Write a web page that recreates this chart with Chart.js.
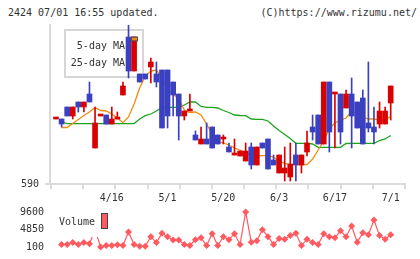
<!DOCTYPE html>
<html><head><meta charset="utf-8">
<script src="https://cdn.jsdelivr.net/npm/chart.js@4/dist/chart.umd.min.js"></script>
<style>
html,body{margin:0;padding:0;background:#fff;width:420px;height:259px;overflow:hidden;}
body{position:relative;font-family:"DejaVu Sans Mono",monospace;}
.t{position:absolute;top:7px;font-size:10px;line-height:12px;color:#333;white-space:pre;}
#tl{left:8px;}
#tr{right:3px;}
#c1{position:absolute;left:0;top:0;}
#c2{position:absolute;left:0;top:200px;}
</style></head>
<body>
<div class="t" id="tl">2424 07/01 16:55 updated.</div>
<div class="t" id="tr">(C)https://www.rizumu.net/</div>
<canvas id="c1" width="420" height="207"></canvas>
<canvas id="c2" width="420" height="59"></canvas>
<script>
// ---- data ----
const tickDates = ['4/16','5/1','5/20','6/3','6/17','7/1'];
const tickIdx   = [10,20,30,40,50,60];
const priceTicks = [590];
const volTicks = [100,4850,9600];
const open  = [655,655,667,658,672,667,680,626,658,659,650,655,679,737,703,700,700,707,700,704,704,692,680,658,663,639,630,635,647,639,635,627,619,618,613,627,609,631,635,614,601,601,597,619,609,622,647,659,630,692,680,680,666,680,672,676,651,647,650,650,671];
const high  = [655,655,667,667,672,672,692,667,658,659,667,662,692,749,737,700,700,716,712,704,704,692,680,663,680,643,647,651,647,639,639,631,635,623,631,631,627,631,635,619,619,627,631,631,619,643,659,659,692,692,680,680,684,696,672,684,712,667,672,667,688];
const low   = [655,647,658,655,662,662,672,626,658,650,650,655,679,696,703,692,695,691,687,646,646,658,634,654,663,634,630,630,626,630,630,622,619,618,613,605,609,626,605,609,601,593,593,593,601,618,634,630,630,622,626,630,666,626,646,630,642,630,646,650,654];
const close = [655,650,658,667,667,672,672,651,658,650,655,655,688,703,737,692,695,712,692,646,658,679,658,663,663,634,635,630,626,630,635,622,619,623,623,609,627,626,605,609,619,606,610,609,619,631,642,630,692,642,680,642,680,658,646,630,646,642,663,663,688];
const ma5  = [null,646.5,646.5,650.5,654.5,658.5,662,666.5,663.5,663,660,656,651.3,657,670,686,698,703,704,696,685,680,675,664,661.5,662,659,650,639.5,632.5,631,629,626,624,621,618.3,618.3,618.3,618.3,617,613,610.7,609.3,609.3,609.3,609.3,615,624,633,645.5,651,654,656,662.5,661.5,657,655,655,654,654.5,657.3];
const ma25 = [null,652,650.3,650.3,650.3,650.3,650.3,650.3,650.3,650.3,650.3,650.3,650.3,650.3,650.5,655,658.3,660,663,666.7,666.7,666.7,666.7,669,672,672,667.5,666.7,666.7,666,663.5,661.5,659,658.5,658.3,655,654.7,654.7,653,648,643.5,639.5,635.5,630.7,630.7,630.7,630,626.7,626.7,626.7,626.7,626.7,630.5,630.7,630.7,630.7,630.7,630.7,633.5,635,638.5];
const volume = [null,800,800,1300,800,1300,1000,4800,100,500,500,700,500,4200,800,300,300,2900,1300,3800,2900,2000,2000,800,500,2100,2600,500,3700,500,2900,2100,3700,800,9600,1400,1800,4800,2900,800,2400,2200,3200,3800,500,2200,1300,800,3700,2900,2600,4500,2900,5800,1400,4000,3400,7400,3200,2200,3400];
const ma5Name = '5-day MA', ma25Name = '25-day MA', volName = 'Volume';

// ---- styling / layout ----
const RED = '#d80000', BLUE = '#3b40c0', ORANGE = '#f28a10', GREEN = '#1fa31f', VOLC = '#ff5a60', AX = '#dadada';
const FONT = {family:'"DejaVu Sans Mono", monospace', size:10};
const XMIN = -1.0756, XMAX = 62.564, UNIT = 5.5783;
const idx = open.map((_, i) => i);
const col = idx.map(i => close[i] >= open[i] ? RED : BLUE);

const gridStart = XMIN + 1/UNIT, gridStep = (XMAX - gridStart)/11;
const gridVals = Array.from({length:12}, (_, k) => gridStart + k*gridStep);

const mainLegend = {
  id:'mainLegend',
  beforeDatasetsDraw(chart){
    const c = chart.ctx; c.save();
    c.fillStyle = '#fff'; c.fillRect(65,30,78,47);
    c.strokeStyle = '#d6d6d6'; c.lineWidth = 2; c.strokeRect(65,30,78,47);
    c.fillStyle = '#333'; c.font = '10px "DejaVu Sans Mono"';
    c.textAlign = 'right'; c.textBaseline = 'middle';
    c.fillText(ma5Name, 125, 46.5); c.fillText(ma25Name, 125, 63.5);
    c.restore();
  },
  afterDatasetsDraw(chart){
    const c = chart.ctx; c.save();
    c.fillStyle = ORANGE; c.fillRect(132,37.5,5,3);
    c.strokeStyle = '#555'; c.lineWidth = 1; c.strokeRect(131.5,37,6,4);
    c.restore();
  }
};

new Chart(document.getElementById('c1'), {
  type:'bar',
  data:{datasets:[
    {type:'bar', order:0, grouped:false, data: idx.map(i => ({x:i, y:[open[i], close[i]]})),
     backgroundColor: col, barThickness:5, minBarLength:2, borderWidth:0},
    {type:'bar', order:1, grouped:false, data: idx.map(i => ({x:i, y:[low[i], high[i]]})),
     backgroundColor: col, barThickness:1, minBarLength:0, borderWidth:0},
    {type:'line', order:2, label:ma5Name, data: idx.map(i => ({x:i, y:ma5[i]})),
     borderColor:ORANGE, borderWidth:1.3, pointRadius:0, tension:0, fill:false},
    {type:'line', order:3, label:ma25Name, data: idx.map(i => ({x:i, y:ma25[i]})),
     borderColor:GREEN, borderWidth:1.3, pointRadius:0, tension:0, fill:false}
  ]},
  options:{
    responsive:false, devicePixelRatio:1, animation:false,
    layout:{padding:{left:0, right:15, top:25, bottom:0}},
    plugins:{legend:{display:false}, tooltip:{enabled:false}},
    scales:{
      x:{type:'linear', min:XMIN, max:XMAX, offset:false,
        afterFit(s){ s.height = 23; },
        afterBuildTicks(s){
          const t = gridVals.map(v => ({value:v}));
          tickIdx.forEach((v, k) => t.push({value:v, txt:tickDates[k]}));
          t.sort((a,b) => a.value - b.value);
          s.ticks = t;
        },
        grid:{offset:false, drawOnChartArea:false, drawTicks:true, tickLength:5,
          color: c => (c.tick && c.tick.txt) ? 'rgba(0,0,0,0)' : AX,
          lineWidth: c => (c.tick && c.tick.txt) ? 0 : 2},
        border:{display:true, color:AX, width:2},
        ticks:{autoSkip:false, maxRotation:0, minRotation:0, padding:3, color:'#333', font:FONT,
          callback:(v, i, ts) => ts[i] && ts[i].txt ? ts[i].txt : ''}
      },
      y:{type:'linear', min:590, max:749, beginAtZero:false,
        afterFit(s){ s.width = 50; },
        afterBuildTicks(s){ s.ticks = priceTicks.map(v => ({value:v})); },
        grid:{drawOnChartArea:false, drawTicks:true, tickLength:5, color:AX, lineWidth:2},
        border:{display:true, color:AX, width:2},
        ticks:{padding:6, color:'#333', font:FONT, callback:v => String(v)}
      }
    }
  },
  plugins:[mainLegend]
});

const volLegend = {
  id:'volLegend',
  afterDatasetsDraw(chart){
    const c = chart.ctx; c.save();
    c.fillStyle = '#fff'; c.fillRect(56,7,55,30);
    c.fillStyle = '#333'; c.font = '10px "DejaVu Sans Mono"';
    c.textAlign = 'left'; c.textBaseline = 'middle';
    c.fillText(volName, 59, 22.5);
    c.fillStyle = VOLC; c.fillRect(102,13.5,5.5,15);
    c.strokeStyle = '#444'; c.lineWidth = 1; c.strokeRect(101.5,13.5,6,15);
    c.restore();
  }
};

new Chart(document.getElementById('c2'), {
  type:'line',
  data:{datasets:[
    {label:volName, data: idx.filter(i => volume[i] !== null).map(i => ({x:i, y:volume[i]})),
     borderColor:VOLC, borderWidth:1.2, tension:0, fill:false, clip:false,
     pointStyle:'rectRot', pointRadius:3.5, pointBackgroundColor:VOLC, pointBorderColor:VOLC, pointBorderWidth:0}
  ]},
  options:{
    responsive:false, devicePixelRatio:1, animation:false,
    layout:{padding:{left:0, right:15, top:9, bottom:10}},
    plugins:{legend:{display:false}, tooltip:{enabled:false}},
    scales:{
      x:{type:'linear', min:XMIN, max:XMAX, display:false},
      y:{type:'linear', min:100, max:9600,
        afterFit(s){ s.width = 50; },
        afterBuildTicks(s){ s.ticks = volTicks.map(v => ({value:v})); },
        grid:{display:false, drawTicks:false},
        border:{display:false},
        ticks:{padding:6, color:'#333', font:FONT, callback:v => String(v)}
      }
    }
  },
  plugins:[volLegend]
});
</script>
</body></html>
